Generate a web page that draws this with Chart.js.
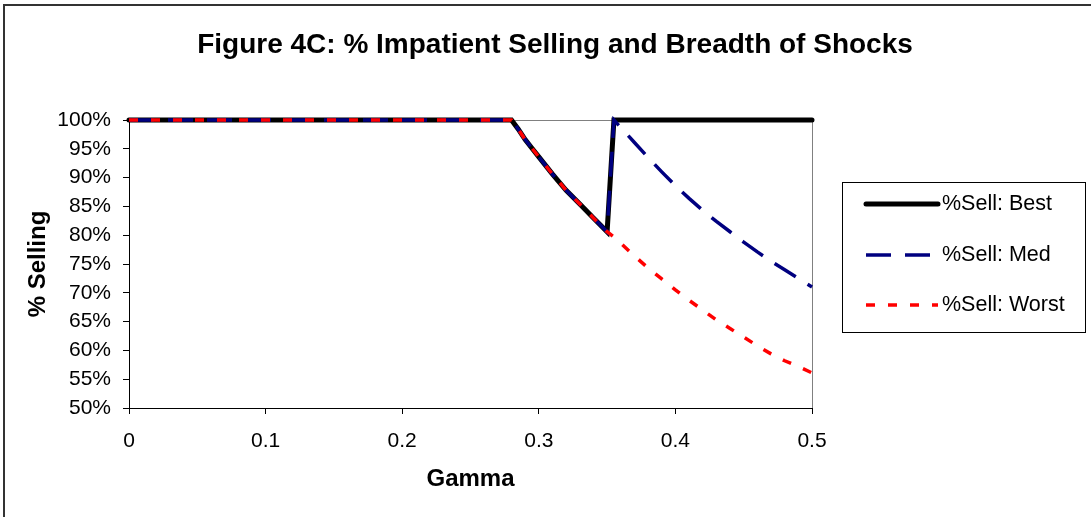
<!DOCTYPE html>
<html>
<head>
<meta charset="utf-8">
<script src="https://cdn.jsdelivr.net/npm/chart.js@4/dist/chart.umd.min.js"></script>
<style>
html,body{margin:0;padding:0;background:#fff;}
canvas{display:block;}
</style>
</head>
<body>
<canvas id="c" width="1091" height="517"></canvas>
<script>
const gamma = [0, 0.05, 0.1, 0.15, 0.2, 0.25, 0.28, 0.285, 0.29, 0.295, 0.30, 0.31, 0.32, 0.33, 0.34, 0.35, 0.355, 0.36, 0.37, 0.38, 0.39, 0.40, 0.41, 0.42, 0.43, 0.44, 0.45, 0.46, 0.47, 0.48, 0.49, 0.50];
const sellBest  = [100, 100, 100, 100, 100, 100, 100, 98.4, 96.6, 95.1, 93.6, 90.6, 87.8, 85.4, 83.0, 80.6, 100, 100, 100, 100, 100, 100, 100, 100, 100, 100, 100, 100, 100, 100, 100, 100];
const sellMed   = [100, 100, 100, 100, 100, 100, 100, 98.4, 96.6, 95.1, 93.6, 90.6, 87.8, 85.4, 83.0, 80.6, 100, 98.7, 96.1, 93.5, 91.0, 88.6, 86.4, 84.3, 82.4, 80.6, 78.8, 77.1, 75.5, 74.0, 72.5, 71.0];
const sellWorst = [100, 100, 100, 100, 100, 100, 100, 98.4, 96.6, 95.1, 93.6, 90.6, 87.8, 85.4, 83.0, 80.6, 79.7, 78.6, 76.4, 74.3, 72.4, 70.5, 68.7, 67.0, 65.3, 63.8, 62.3, 60.8, 59.4, 58.2, 57.2, 56.1];
const seriesNames = ['%Sell: Best', '%Sell: Med', '%Sell: Worst'];
const titleText = 'Figure 4C: % Impatient Selling and Breadth of Shocks';
const xTitle = 'Gamma';
const yTitle = '% Selling';

const FONT = '"Liberation Sans", Arial, sans-serif';
const pts = arr => gamma.map((g, i) => ({x: g, y: arr[i]}));

const decor = {
  id: 'decor',
  beforeDraw(chart) {
    const ctx = chart.ctx, a = chart.chartArea;
    ctx.save();
    ctx.strokeStyle = '#333';
    ctx.lineWidth = 2;
    ctx.strokeRect(4, 5, 1200, 700);
    ctx.strokeStyle = '#808080';
    ctx.lineWidth = 1;
    ctx.strokeRect(a.left + 0.5, a.top + 0.5, a.right - a.left, a.bottom - a.top);
    ctx.fillStyle = '#000';
    ctx.font = 'bold 28px ' + FONT;
    ctx.textAlign = 'center';
    ctx.textBaseline = 'middle';
    ctx.fillText(titleText, 555, 45);
    ctx.restore();
  },
  afterDraw(chart) {
    const ctx = chart.ctx;
    ctx.save();
    ctx.strokeStyle = '#000';
    ctx.lineWidth = 1;
    ctx.strokeRect(842.5, 182.5, 243, 150);
    const rows = [204, 255, 305];
    chart.data.datasets.forEach((ds, i) => {
      const y = rows[i];
      ctx.beginPath();
      ctx.strokeStyle = ds.borderColor;
      ctx.lineWidth = ds.borderWidth;
      ctx.lineCap = ds.borderCapStyle || 'butt';
      ctx.setLineDash(ds.borderDash || []);
      ctx.moveTo(866, y);
      ctx.lineTo(938, y);
      ctx.stroke();
      ctx.setLineDash([]);
      ctx.fillStyle = '#000';
      ctx.font = '21.5px ' + FONT;
      ctx.textAlign = 'left';
      ctx.textBaseline = 'middle';
      ctx.fillText(ds.label, 942, y);
    });
    ctx.restore();
  }
};

new Chart(document.getElementById('c'), {
  type: 'line',
  data: {
    datasets: [
      {label: seriesNames[0], data: pts(sellBest), borderColor: '#000000', borderWidth: 5, borderCapStyle: 'round', order: 3},
      {label: seriesNames[1], data: pts(sellMed), borderColor: '#000080', borderWidth: 3.5, borderDash: [25, 14], order: 2},
      {label: seriesNames[2], data: pts(sellWorst), borderColor: '#FF0000', borderWidth: 3.5, borderDash: [9, 13], order: 1}
    ]
  },
  options: {
    responsive: false,
    animation: false,
    events: [],
    layout: {padding: {left: 0, right: 279, top: 120, bottom: 0}},
    elements: {point: {radius: 0}, line: {tension: 0}},
    datasets: {line: {clip: false}},
    plugins: {legend: {display: false}, tooltip: {enabled: false}, title: {display: false}},
    scales: {
      x: {
        type: 'linear', min: 0, max: 0.5,
        afterFit(s) { s.height = 109; },
        ticks: {stepSize: 0.1, padding: 15, color: '#000', font: {family: FONT, size: 21},
          callback: v => String(Math.round(v * 10) / 10)},
        grid: {drawOnChartArea: false, drawTicks: true, tickLength: 6, color: '#000'},
        border: {display: true, color: '#000', width: 1},
        title: {display: true, text: xTitle, color: '#000', font: {family: FONT, size: 24, weight: 'bold'}, padding: {top: 0, bottom: 23}}
      },
      y: {
        type: 'linear', min: 50, max: 100,
        afterFit(s) { s.width = 129; },
        ticks: {stepSize: 5, padding: 12, color: '#000', font: {family: FONT, size: 21},
          callback: v => v + '%'},
        grid: {drawOnChartArea: false, drawTicks: true, tickLength: 6, color: '#000'},
        border: {display: true, color: '#000', width: 1},
        title: {display: true, text: yTitle, color: '#000', font: {family: FONT, size: 24, weight: 'bold'}, padding: {top: 24, bottom: 0}}
      }
    }
  },
  plugins: [decor]
});
</script>
</body>
</html>
